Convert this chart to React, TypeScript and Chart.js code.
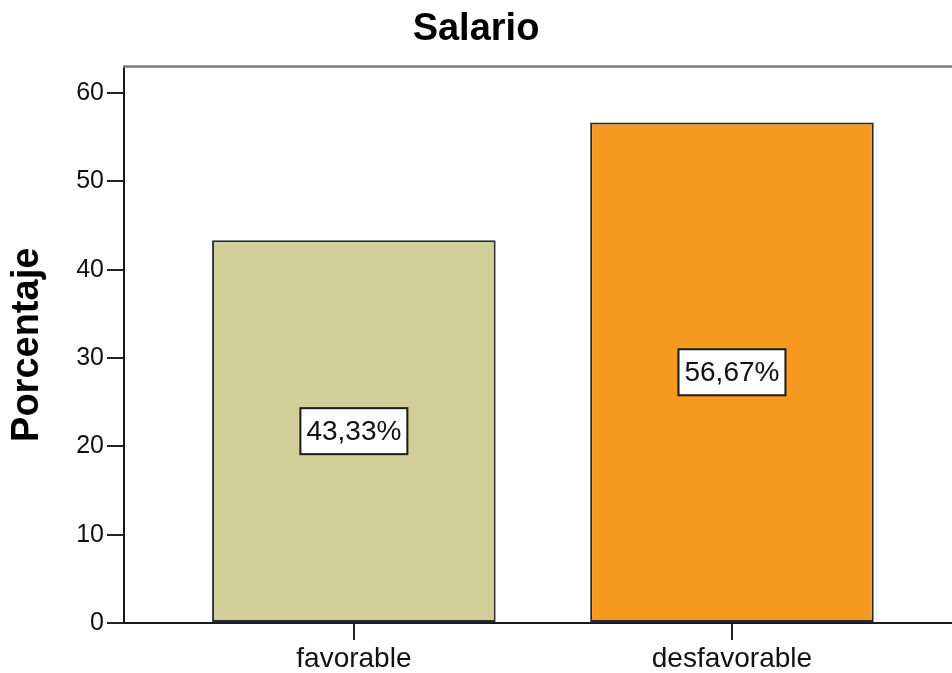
import React, { useEffect, useRef } from "react";
import { Chart, registerables } from "chart.js";

Chart.register(...registerables);

const FONT = "'Liberation Sans', Arial, Helvetica, sans-serif";

const chartTitle = "Salario";
const yAxisTitle = "Porcentaje";
const categories = ["favorable", "desfavorable"];
const percentages = [43.33, 56.67];
const barColors = ["#D2CE98", "#F7981F"];
const yTickValues = [0, 10, 20, 30, 40, 50, 60];
const yMin = 0;
const yMax = 63;
const xMin = -0.608;
const xMax = 1.582;

const formatPct = (v: number) => v.toFixed(2).replace(".", ",") + "%";

const valueBoxes = {
  id: "valueBoxes",
  afterDatasetsDraw(chart: any) {
    const ctx = chart.ctx;
    const meta = chart.getDatasetMeta(0);
    meta.data.forEach((el: any, i: number) => {
      const { x, y, base } = el.getProps(["x", "y", "base"], true);
      const text = formatPct(percentages[i]);
      ctx.save();
      ctx.font = `28px ${FONT}`;
      const w = ctx.measureText(text).width + 12;
      const h = 46;
      const cy = (y + base) / 2;
      ctx.fillStyle = "#ffffff";
      ctx.fillRect(x - w / 2, cy - h / 2, w, h);
      ctx.lineWidth = 2;
      ctx.strokeStyle = "#1a1a1a";
      ctx.strokeRect(x - w / 2, cy - h / 2, w, h);
      ctx.fillStyle = "#111111";
      ctx.textAlign = "center";
      ctx.textBaseline = "middle";
      ctx.fillText(text, x, cy + 1);
      ctx.restore();
    });
  },
};

const topFrame = {
  id: "topFrame",
  afterDraw(chart: any) {
    const { ctx, chartArea } = chart;
    ctx.save();
    ctx.strokeStyle = "#7a7a7a";
    ctx.lineWidth = 2.5;
    ctx.beginPath();
    ctx.moveTo(chartArea.left - 1, chartArea.top);
    ctx.lineTo(chartArea.right, chartArea.top);
    ctx.stroke();
    ctx.restore();
  },
};

export default function App() {
  const canvasRef = useRef<HTMLCanvasElement | null>(null);

  useEffect(() => {
    document.body.style.margin = "0";
    const canvas = canvasRef.current;
    if (!canvas) return;
    const chart = new Chart(canvas, {
      type: "bar",
      data: {
        labels: categories,
        datasets: [
          {
            data: percentages.map((v, i) => ({ x: i, y: v })),
            backgroundColor: barColors,
            borderColor: "#2a2a2a",
            borderWidth: 2,
            borderSkipped: false,
            barPercentage: 0.75,
            categoryPercentage: 1,
          },
        ],
      },
      options: {
        responsive: false,
        animation: false,
        devicePixelRatio: 1,
        layout: { padding: 0 },
        plugins: {
          legend: { display: false },
          tooltip: { enabled: false },
          title: {
            display: true,
            text: chartTitle,
            color: "#000000",
            font: { family: FONT, size: 38, weight: "bold" },
            padding: { top: 7, bottom: 14 },
          },
        },
        scales: {
          x: {
            type: "linear",
            min: xMin,
            max: xMax,
            offset: false,
            afterBuildTicks: (scale: any) => {
              scale.ticks = categories.map((_, i) => ({ value: i }));
            },
            afterFit: (scale: any) => {
              scale.height = 50;
            },
            ticks: {
              color: "#111111",
              font: { family: FONT, size: 28 },
              padding: 2,
              maxRotation: 0,
              autoSkip: false,
              callback: (v: any) => categories[v as number] ?? "",
            },
            grid: {
              offset: false,
              drawOnChartArea: false,
              tickLength: 17,
              tickColor: "#222222",
              lineWidth: 2,
            },
            border: { display: true, color: "#1a1a1a", width: 2 },
          },
          y: {
            min: yMin,
            max: yMax,
            afterBuildTicks: (scale: any) => {
              scale.ticks = yTickValues.map((v) => ({ value: v }));
            },
            afterFit: (scale: any) => {
              scale.width = 124;
            },
            ticks: {
              color: "#111111",
              font: { family: FONT, size: 25 },
              padding: 3,
              includeBounds: false,
            },
            grid: {
              drawOnChartArea: false,
              tickLength: 17,
              tickColor: "#222222",
              lineWidth: 2,
            },
            border: { display: true, color: "#1a1a1a", width: 2 },
            title: {
              display: true,
              text: yAxisTitle,
              color: "#000000",
              font: { family: FONT, size: 38, weight: "bold" },
              padding: { top: 5, bottom: 0 },
            },
          },
        },
      },
      plugins: [valueBoxes, topFrame],
    });
    return () => chart.destroy();
  }, []);

  return (
    <div style={{ width: 952, height: 673, background: "#ffffff" }}>
      <canvas ref={canvasRef} width={952} height={673} />
    </div>
  );
}
